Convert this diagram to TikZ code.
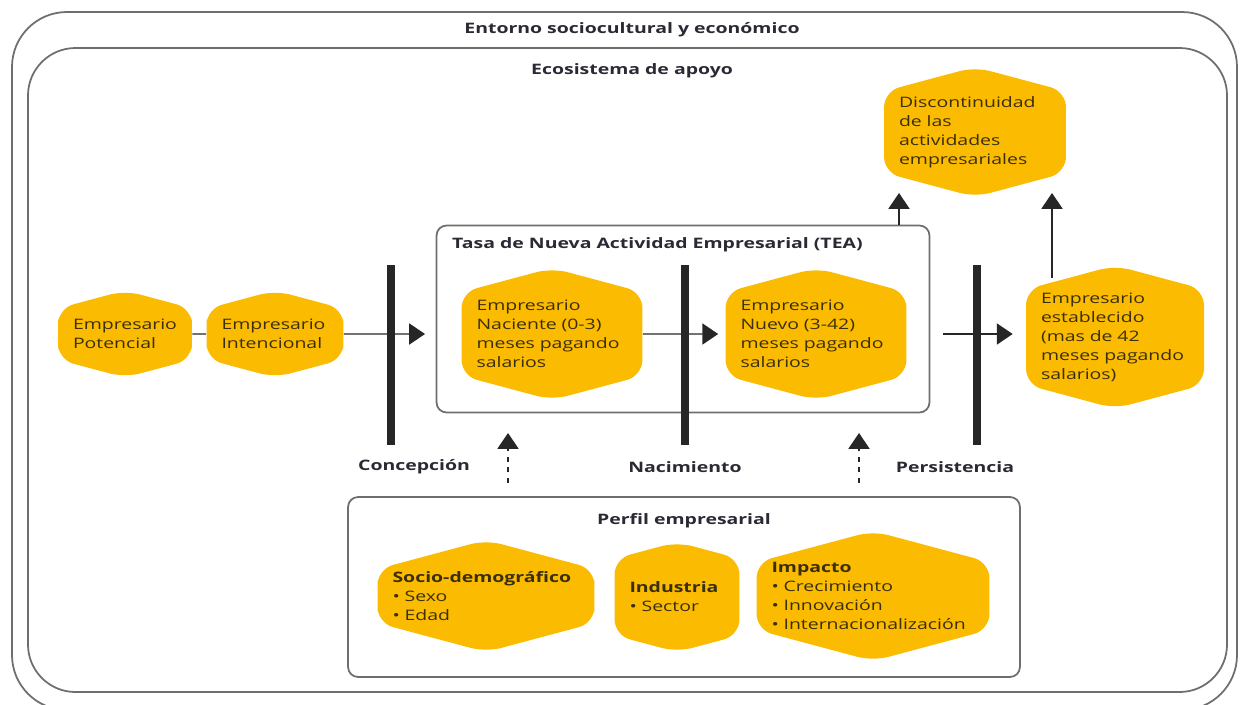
\documentclass[tikz,border=0pt]{standalone}
\usepackage{fontspec}
\setmainfont{Open Sans}[FakeStretch=1.35]
\usetikzlibrary{arrows.meta,positioning,shapes.symbols}

\definecolor{amarillo}{HTML}{FBBB00}
\definecolor{textonodo}{HTML}{3B2F0A}
\definecolor{textotitulo}{HTML}{2A2A35}
\definecolor{borde}{HTML}{6E6E6E}

\begin{document}
\begin{tikzpicture}[x=0.02cm,y=-0.02cm,>={Triangle[length=9pt,width=12pt]},
	etapa/.style={signal,signal to=north and south,signal pointer angle=150,fill=amarillo,rounded corners=9pt,align=left,inner xsep=0.3cm,inner ysep=0pt,text=textonodo,font=\fontsize{8.2}{10.8}\selectfont},
	caja/.style={draw=borde,line width=1pt,rounded corners=0.2cm},
	barra/.style={line width=5pt,draw=black!85},
	titulo/.style={text=textotitulo,font=\bfseries\fontsize{8.2}{10}\selectfont},
	flecha/.style={->,line width=0.8pt,draw=black!85}]
			\useasboundingbox (0,0) rectangle (1240,704);
			% marcos
			\draw[draw=borde,line width=1pt,rounded corners=1.1cm] (12,12) rectangle (1237,710);
			\draw[draw=borde,line width=1pt,rounded corners=0.95cm] (28,48) rectangle (1227,692);
			\node[titulo] (entorno) at (632,30) {Entorno sociocultural y económico};
			\node[titulo] (ecosis) at (632,71) {Ecosistema de apoyo};
			% TEA y perfil
			\node[caja,minimum width=9.86cm,minimum height=3.74cm] (tea) at (683,319) {};
			\node[titulo,anchor=west] (tea_t) at (446,245) {Tasa de Nueva Actividad Empresarial (TEA)};
			\node[caja,minimum width=13.44cm,minimum height=3.6cm] (perfil) at (684,587) {};
			\node[titulo] (perfil_t) at (684,521) {Perfil empresarial};
			% etapas
			\node[etapa,text width=2.08cm,minimum height=1.74cm] (e_pot) at (125,334) {Empresario\\Potencial};
			\node[etapa,text width=2.14cm,minimum height=1.74cm] (e_int) at (275,334) {Empresario\\Intencional};
			\node[etapa,text width=3.02cm,minimum height=2.64cm] (e_nac) at (552,334) {Empresario\\Naciente (0-3)\\meses pagando\\salarios};
			\node[etapa,text width=3.02cm,minimum height=2.64cm] (e_nue) at (816,334) {Empresario\\Nuevo (3-42)\\meses pagando\\salarios};
			\node[etapa,text width=2.96cm,minimum height=2.86cm] (e_est) at (1115,337) {Empresario\\establecido\\(mas de 42\\meses pagando\\salarios)};
			\node[etapa,text width=3.04cm,minimum height=2.6cm] (e_dis) at (975,132) {Discontinuidad\\de las\\actividades\\empresariales};
			% perfil
			\node[etapa,text width=3.74cm,minimum height=2.24cm] (p_soc) at (486,596) {\textbf{Socio-demográfico}\\\textbullet{} Sexo\\\textbullet{} Edad};
			\node[etapa,text width=1.9cm,minimum height=2.2cm] (p_ind) at (677,597) {\textbf{Industria}\\\textbullet{} Sector};
			\node[etapa,text width=4.06cm,minimum height=2.6cm] (p_imp) at (873,596) {\textbf{Impacto}\\\textbullet{} Crecimiento\\\textbullet{} Innovación\\\textbullet{} Internacionalización};
			% barras
			\draw[barra] (391,265) -- (391,445);
			\draw[barra] (685,265) -- (685,445);
			\draw[barra] (977,265) -- (977,445);
			\node[titulo] (concep) at (414,467) {Concepción};
			\node[titulo] (nacim) at (685,467) {Nacimiento};
			\node[titulo] (persis) at (955,467) {Persistencia};
			% conectores
			\coordinate (c_tea) at (425,334);
			\coordinate (c_d1) at (899,193);
			\coordinate (c_d2) at (1052,193);
			\coordinate (c_est) at (1052,278);
			\coordinate (c_p1) at (508,483);
			\coordinate (c_p1t) at (508,433);
			\coordinate (c_p2) at (859,483);
			\coordinate (c_p2t) at (859,433);
			\draw[flecha,-] (e_pot) -- (e_int);
			\draw[flecha] (e_int) -- (c_tea);
			\draw[flecha,shorten >=0.14cm] (e_nac) -- (e_nue);
			\draw[flecha,shorten <=0.26cm,shorten >=0.26cm] (tea.east |- e_nue.east) -- (e_nue.east -| e_est.west);
			\draw[flecha] (tea.north -| c_d1) -- (c_d1);
			\draw[flecha] (c_est) -- (c_d2);
			\draw[flecha,dash pattern=on 3pt off 3pt] (c_p1) -- (c_p1t);
			\draw[flecha,dash pattern=on 3pt off 3pt] (c_p2) -- (c_p2t);
		\end{tikzpicture}
\end{document}
